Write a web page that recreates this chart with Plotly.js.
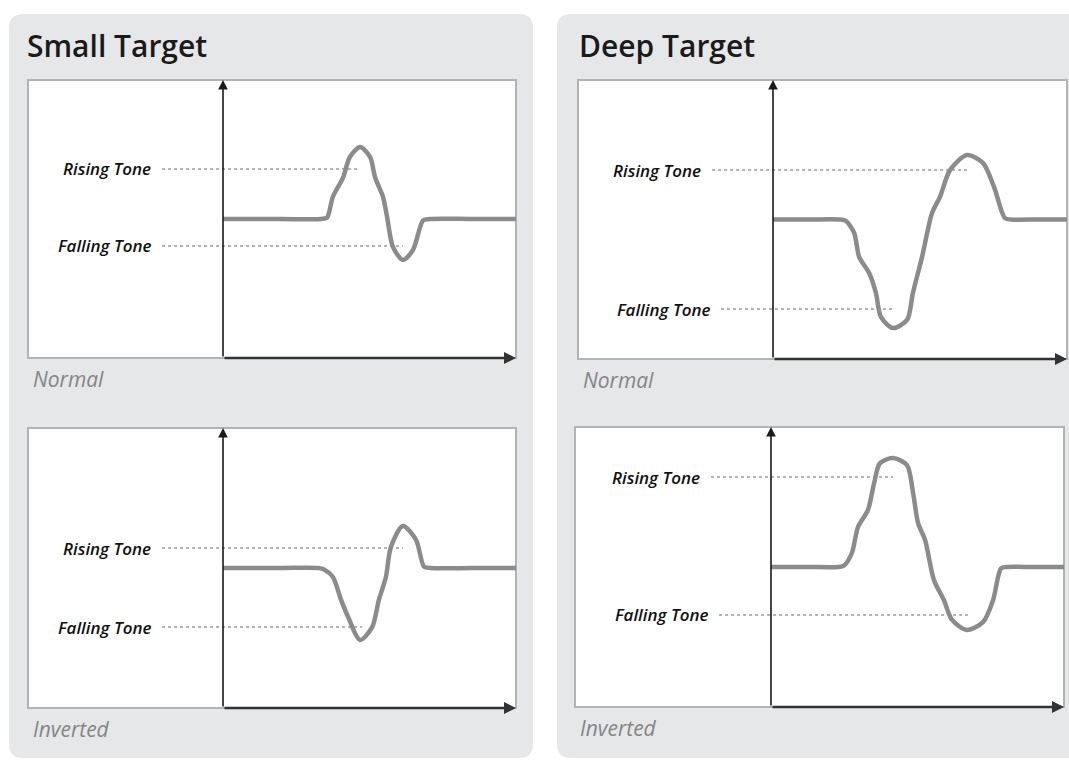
<!DOCTYPE html>
<html>
<head>
<meta charset="utf-8">
<script src="https://cdn.plot.ly/plotly-3.0.1.min.js"></script>
<style>
body { margin: 0; background: #fff; }
#chart { width: 1069px; height: 760px; }
</style>
</head>
<body>
<div id="chart"></div>
<script>
// text
var panelTitles = ["Small Target", "Deep Target"];
var modeNames = ["Normal", "Inverted"];
var toneNames = ["Rising Tone", "Falling Tone"];

// signal curves, x = time after the axis (0-100), y = amplitude (0-100)
var smallNormalX = [0, 20, 33.5, 35.5, 37.5, 41, 43.3, 46.8, 50.2, 51.9, 54.6, 56, 58, 61.4, 64.8, 68.3, 70.5, 85, 100];
var smallNormalY = [50, 50, 50, 50.5, 58, 65, 72.3, 75.9, 72.3, 65, 58, 50.7, 40, 35.3, 38.8, 49.5, 50, 50, 50];

var smallInvertedX = [0, 20, 32.5, 34.5, 37.5, 40.3, 42.7, 46.8, 50.9, 53.2, 55.6, 57.3, 61.4, 65.9, 68.6, 70.8, 85, 100];
var smallInvertedY = [50, 50, 50, 49.5, 46.8, 38.6, 32.5, 24.3, 28.9, 38.6, 46.8, 57.5, 65, 60, 50.5, 50, 50, 50];

var deepNormalX = [0, 12, 22.8, 24.8, 27.6, 29.3, 32.7, 35, 36.7, 40.8, 45.6, 47.6, 50.7, 54.1, 56.8, 60.2, 66, 71.4, 75.2, 78.9, 81, 90, 100];
var deepNormalY = [50, 50, 50, 49.5, 45.2, 36.6, 30.8, 23.7, 15.1, 11.1, 14, 23.7, 36.6, 52.3, 58.1, 67.7, 73.1, 70.3, 61.6, 50.5, 50, 50, 50];

var deepInvertedX = [0, 12, 22.9, 24.9, 27.6, 29.7, 33.1, 35.2, 37.2, 41.6, 46.4, 48.5, 50.2, 52.6, 55.6, 59, 61.8, 66.9, 72.4, 75.8, 78.5, 80.5, 90, 100];
var deepInvertedY = [50, 50, 50, 50.5, 55, 64.3, 70.4, 80, 87.1, 88.9, 86.4, 76.4, 65.7, 59.6, 45.4, 38.2, 31.1, 27.5, 30.4, 38.2, 49.5, 50, 50, 50];

// tone guides per chart: small normal, small inverted, deep normal, deep inverted
var risingLevel = [68, 57.1, 67.7, 82.1];
var risingAt = [46.4, 61.4, 66, 41.6];
var risingFrom = [-20.8, -20.8, -20.7, -20.5];
var fallingLevel = [40.3, 28.9, 17.9, 32.9];
var fallingAt = [61.4, 47.4, 40.8, 67.2];
var fallingFrom = [-20.8, -20.8, -17.7, -17.7];

var curvesX = [smallNormalX, smallInvertedX, deepNormalX, deepInvertedX];
var curvesY = [smallNormalY, smallInvertedY, deepNormalY, deepInvertedY];

// page geometry in pixels
var W = 1069, H = 760;
function px(x) { return x / W; }
function py(y) { return 1 - y / H; }

// white boxes [left, top, right, bottom, axis x]
var boxes = [
  [28, 80, 516, 358, 223],
  [28, 428, 516, 708, 223],
  [578, 80, 1067, 359, 773],
  [575, 427, 1064, 707, 771]
];

function roundRect(x0, y0, x1, y1, r) {
  var rx = r / W, ry = r / H;
  var a = px(x0), b = px(x1), t = py(y0), u = py(y1);
  return "M" + (a + rx) + "," + t + " L" + (b - rx) + "," + t +
    " Q" + b + "," + t + " " + b + "," + (t - ry) +
    " L" + b + "," + (u + ry) + " Q" + b + "," + u + " " + (b - rx) + "," + u +
    " L" + (a + rx) + "," + u + " Q" + a + "," + u + " " + a + "," + (u + ry) +
    " L" + a + "," + (t - ry) + " Q" + a + "," + t + " " + (a + rx) + "," + t + " Z";
}

var data = [];
var layout = {
  width: W, height: H,
  margin: {l: 0, r: 0, t: 0, b: 0},
  paper_bgcolor: "#ffffff",
  plot_bgcolor: "rgba(0,0,0,0)",
  showlegend: false,
  shapes: [
    {type: "path", xref: "paper", yref: "paper", layer: "below", path: roundRect(9, 14, 533, 758, 14), fillcolor: "#e6e7e8", line: {width: 0}},
    {type: "path", xref: "paper", yref: "paper", layer: "below", path: roundRect(557, 14, 1090, 758, 14), fillcolor: "#e6e7e8", line: {width: 0}}
  ],
  annotations: []
};

var curveColor = "#8b8b8b";
var labelFont = {family: "Open Sans", size: 17, color: "#111", style: "italic", weight: 600};

boxes.forEach(function (b, i) {
  var n = i + 1;
  var sfx = n === 1 ? "" : String(n);
  var xa = "x" + sfx, ya = "y" + sfx;
  var xr = -100 * (b[4] - b[0]) / (b[2] - b[4]);
  var axisCfg = {showgrid: false, zeroline: false, showticklabels: false, ticks: "", showline: false, fixedrange: true};
  layout["xaxis" + sfx] = Object.assign({domain: [px(b[0]), px(b[2])], range: [xr, 100], anchor: ya}, axisCfg);
  layout["yaxis" + sfx] = Object.assign({domain: [py(b[3]), py(b[1])], range: [0, 100], anchor: xa}, axisCfg);

  // white box with grey frame
  layout.shapes.push({type: "rect", xref: xa + " domain", yref: ya + " domain", x0: 0, x1: 1, y0: 0, y1: 1,
    layer: "below", fillcolor: "#ffffff", line: {color: "#b3b3b3", width: 2}});

  // dotted guides
  data.push({x: [risingFrom[i], risingAt[i]], y: [risingLevel[i], risingLevel[i]], xaxis: xa, yaxis: ya,
    mode: "lines", line: {color: "#9a9a9a", width: 1.5, dash: "dot"}, hoverinfo: "skip"});
  data.push({x: [fallingFrom[i], fallingAt[i]], y: [fallingLevel[i], fallingLevel[i]], xaxis: xa, yaxis: ya,
    mode: "lines", line: {color: "#9a9a9a", width: 1.5, dash: "dot"}, hoverinfo: "skip"});

  // signal
  data.push({x: curvesX[i], y: curvesY[i], xaxis: xa, yaxis: ya, mode: "lines",
    line: {color: curveColor, width: 4.5, shape: "spline", smoothing: 0.8}, hoverinfo: "skip"});

  // axis arrows
  layout.annotations.push({xref: xa, yref: ya, axref: xa, ayref: ya, x: 0, y: 100, ax: 0, ay: 0, text: "",
    showarrow: true, arrowhead: 2, arrowsize: 1.2, arrowwidth: 1.6, arrowcolor: "#1a1a1a"});
  layout.annotations.push({xref: xa, yref: ya, axref: xa, ayref: ya, x: 100, y: 0, ax: 0, ay: 0, text: "",
    showarrow: true, arrowhead: 2, arrowsize: 1, arrowwidth: 2.4, arrowcolor: "#333"});

  // tone labels
  layout.annotations.push({xref: xa, yref: ya, x: risingFrom[i] - 3, y: risingLevel[i], text: toneNames[0],
    xanchor: "right", yanchor: "middle", showarrow: false, font: labelFont});
  layout.annotations.push({xref: xa, yref: ya, x: fallingFrom[i] - 3, y: fallingLevel[i], text: toneNames[1],
    xanchor: "right", yanchor: "middle", showarrow: false, font: labelFont});

  // Normal / Inverted caption
  layout.annotations.push({xref: "paper", yref: "paper", x: px(b[0] + 3), y: py(b[3] + 21), text: modeNames[i % 2],
    xanchor: "left", yanchor: "middle", showarrow: false,
    font: {family: "Open Sans", size: 21, color: "#858585", style: "italic"}});
});

// panel titles
var titleFont = {family: "Open Sans", size: 30, color: "#1a1a1a", weight: 600};
layout.annotations.push({xref: "paper", yref: "paper", x: px(25), y: py(46), text: panelTitles[0],
  xanchor: "left", yanchor: "middle", showarrow: false, font: titleFont});
layout.annotations.push({xref: "paper", yref: "paper", x: px(577), y: py(46), text: panelTitles[1],
  xanchor: "left", yanchor: "middle", showarrow: false, font: titleFont});

Plotly.newPlot("chart", data, layout, {staticPlot: true});
</script>
</body>
</html>
